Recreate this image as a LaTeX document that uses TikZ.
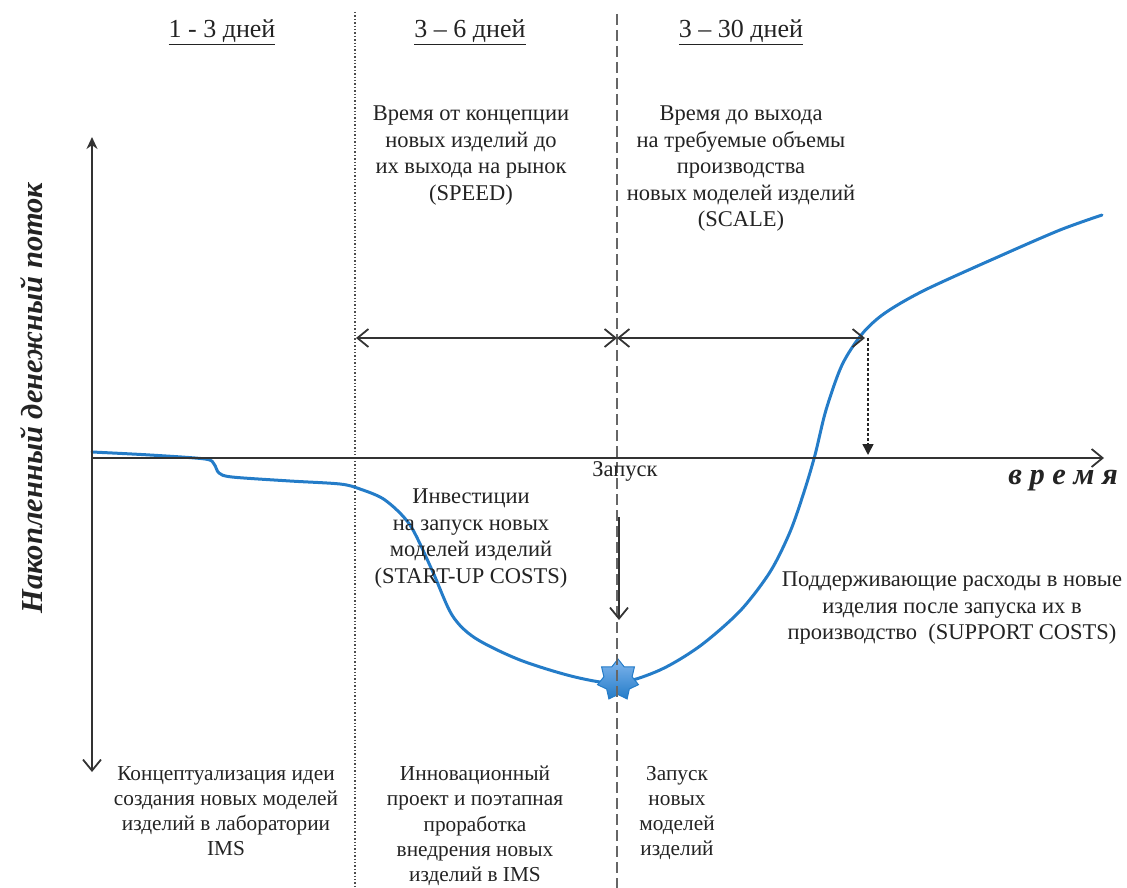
\documentclass[tikz,border=0pt]{standalone}
\usepackage{fontspec}
\setmainfont{Liberation Serif}
\usetikzlibrary{arrows.meta,shapes.geometric}
\definecolor{curveblue}{RGB}{36,124,200}
\definecolor{starblue}{RGB}{74,150,230}
\definecolor{inkgray}{RGB}{35,35,35}
\tikzset{mybarb/.tip={Straight Barb[length=11pt,width=18pt]},
         mytop/.tip={Stealth[length=12pt,width=11pt]},
         mytri/.tip={Triangle[length=11pt,width=11pt]}}
\begin{document}
\begin{tikzpicture}[x=1pt,y=-1pt,
  txt/.style={font=\fontsize{22.5}{26.5}\selectfont, align=center, text=inkgray, inner sep=0pt},
  btxt/.style={font=\fontsize{21.3}{25.2}\selectfont, align=center, text=inkgray, inner sep=0pt},
  head/.style={font=\fontsize{26}{30}\selectfont, text=inkgray, inner sep=0pt},
  bigit/.style={font=\fontsize{30.5}{34}\selectfont\bfseries\itshape, text=inkgray, inner sep=0pt},
  axline/.style={line width=1.8pt, draw=black!80},
  dimline/.style={line width=1.8pt, draw=black!80},
  curveline/.style={line width=3pt, draw=curveblue, line cap=round},
  dotline/.style={line width=1.4pt, draw=black!70, dotted},
  dashline/.style={line width=1.8pt, draw=black!60, dash pattern=on 11pt off 5pt}]
\useasboundingbox (0,0) rectangle (1127,888);

% coordinates
\coordinate (O) at (92,458);
\coordinate (ytop) at (92,137);
\coordinate (ybot) at (92,772);
\coordinate (xend) at (1104,458);
\coordinate (dotT) at (355,12);
\coordinate (dotB) at (355,888);
\coordinate (dashT) at (617,14);
\coordinate (dashB) at (617,888);
\coordinate (dimL) at (356,338);
\coordinate (dimM) at (617,338);
\coordinate (dimR) at (865,338);
\coordinate (dropT) at (868,338);
\coordinate (dropB) at (868,455);
\coordinate (invT) at (619,517);
\coordinate (invB) at (619,620);

% phase separators
\draw[dotline] (dotT) -- (dotB);

% curve
\draw[curveline] plot[smooth, tension=0.5] coordinates {
  (92,452) (150,455) (205,459) (214,464) (219,473) (232,477) (290,481)
  (340,484) (360,489) (385,500) (410,525) (432,570) (452,615) (475,638)
  (520,660) (575,677) (618,683) (660,670) (700,646) (740,611) (770,572)
  (790,532) (804,492) (815,455) (826,410) (842,365) (862,334) (885,313)
  (925,290) (1000,256) (1060,230) (1102,215)};

% star at the minimum
\node[star, star points=7, star point ratio=1.45, minimum size=42pt,
      top color=starblue!70, bottom color=curveblue, draw=curveblue, line width=1pt, inner sep=0pt] (minpt) at (618,680) {};

\draw[dashline] (dashT) -- (dashB);

% axes
\draw[axline, mybarb-mytop] (ybot) -- (ytop);
\draw[axline, -mybarb] (O) -- (xend);

% dimension arrows
\draw[dimline, mybarb-mybarb] (dimL) -- (dimM);
\draw[dimline, mybarb-mybarb] (dimM) -- (dimR);
\draw[line width=1.6pt, draw=black!85, dash pattern=on 3pt off 2pt, -mytri] (dropT) -- (dropB);
\draw[dimline, -mybarb] (invT) -- (invB);

% headers
\node[head] (h1) at (222,32) {\underline{1 - 3 дней}};
\node[head] (h2) at (470,32) {\underline{3 – 6 дней}};
\node[head] (h3) at (741,32) {\underline{3 – 30 дней}};

% upper texts
\node[txt, anchor=north] (speed) at (471,106) {Время от концепции\\новых изделий до\\их выхода на рынок\\(SPEED)};
\node[txt, anchor=north] (scale) at (741,106) {Время до выхода\\на требуемые объемы\\производства\\новых моделей изделий\\(SCALE)};

% axis labels
\node[txt, anchor=north] (launch) at (625,461) {Запуск};
\node[bigit, anchor=east] (time) at (1118,481) {в~р~е~м~я};
\node[bigit, rotate=90] (ylab) at (32,398) {Накопленный денежный поток};

% middle texts
\node[txt, anchor=north] (invest) at (471,489) {Инвестиции\\на запуск новых\\моделей изделий\\(START-UP COSTS)};
\node[txt, anchor=north] (support) at (952,572) {Поддерживающие расходы в новые\\изделия после запуска их в\\производство\ \ (SUPPORT COSTS)};

% bottom texts
\node[btxt, anchor=north] (b1) at (226,766) {Концептуализация идеи\\создания новых моделей\\изделий в лаборатории\\IMS};
\node[btxt, anchor=north] (b2) at (475,766) {Инновационный\\проект и поэтапная\\проработка\\внедрения новых\\изделий в IMS};
\node[btxt, anchor=north] (b3) at (677,766) {Запуск\\новых\\моделей\\изделий};
\end{tikzpicture}
\end{document}
